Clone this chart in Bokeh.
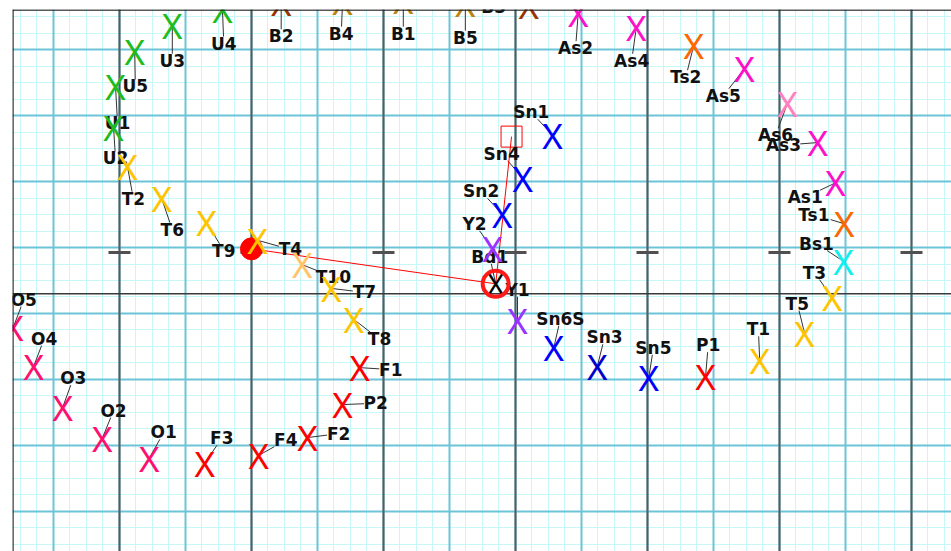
import numpy as np
from bokeh.plotting import figure
from bokeh.models import Range1d, Grid, FixedTicker, Span, ColumnDataSource
from bokeh.core.properties import value
from bokeh.embed import file_html
from bokeh.resources import INLINE

# ---------------- data (chart units) ----------------
names = ["U4", "U3", "U5", "U1", "U2", "T2", "T6", "T9", "T4", "T10", "T7", "T8",
         "F1", "P2", "F2", "F4", "F3", "O1", "O2", "O3", "O4", "O5",
         "Sn1", "Sn4", "Sn2", "Y2", "Y1", "Sn6S", "Sn3", "Sn5", "P1", "T1", "T5", "T3",
         "Bs1", "Ts1", "As1", "As3", "As6", "As5", "Ts2", "As4", "As2",
         "B3", "B5", "B1", "B4", "B2"]
point_x = [-4.44, -5.20, -5.77, -6.06, -6.09, -5.88, -5.36, -4.68, -3.91, -3.23, -2.79, -2.45,
           -2.36, -2.62, -3.15, -3.89, -4.71, -5.55, -6.26, -6.86, -7.30, -7.61,
           0.56, 0.11, -0.20, -0.35, 0.03, 0.58, 1.24, 2.02, 2.88, 3.70, 4.38, 4.80,
           4.97, 4.98, 4.85, 4.58, 4.12, 3.47, 2.70, 1.83, 0.95,
           0.20, -0.76, -1.70, -2.62, -3.55]
point_y = [3.60, 3.36, 2.97, 2.44, 1.82, 1.23, 0.74, 0.38, 0.11, -0.26, -0.62, -1.09,
           -1.82, -2.38, -2.88, -3.15, -3.27, -3.20, -2.89, -2.42, -1.80, -1.21,
           1.70, 1.05, 0.50, -0.02, -1.11, -1.52, -1.80, -1.97, -1.95, -1.71, -1.30, -0.76,
           -0.21, 0.36, 0.98, 1.59, 2.18, 2.71, 3.06, 3.33, 3.55,
           3.66, 3.70, 3.74, 3.73, 3.71]
label_x = [-4.42, -5.20, -5.76, -6.03, -6.06, -5.79, -5.20, -4.42, -3.41, -2.76, -2.29, -2.06,
           -1.89, -2.12, -2.68, -3.48, -4.45, -5.33, -6.09, -6.70, -7.14, -7.45,
           0.24, -0.21, -0.52, -0.62, 0.03, 0.68, 1.35, 2.09, 2.92, 3.68, 4.27, 4.53,
           4.56, 4.52, 4.39, 4.06, 3.94, 3.15, 2.58, 1.76, 0.91,
           -0.33, -0.76, -1.70, -2.64, -3.55]
label_y = [3.09, 2.83, 2.44, 1.89, 1.35, 0.74, 0.27, -0.05, -0.03, -0.45, -0.68, -1.39,
           -1.85, -2.36, -2.82, -2.92, -2.89, -2.80, -2.47, -1.98, -1.38, -0.79,
           2.05, 1.42, 0.85, 0.36, -0.64, -1.08, -1.36, -1.52, -1.48, -1.24, -0.85, -0.38,
           0.06, 0.50, 0.76, 1.55, 1.70, 2.30, 2.58, 2.83, 3.02,
           3.65, 3.18, 3.24, 3.24, 3.20]
point_colors = ["#1fbb1f"] * 5 + ["#ffc400"] * 4 + ["#ffc46a"] + ["#ffc400"] * 2 + \
               ["#ff0000"] * 5 + ["#ff1070"] * 5 + \
               ["#0000ff"] * 3 + ["#9933ff"] * 2 + ["#0000ff", "#0000cc", "#0000ff", "#ff0000"] + \
               ["#ffc400"] * 3 + ["#11eeee", "#ff6600", "#ff10c8", "#ff10c8", "#ff80c0", "#ff10c8",
                                  "#ff6600", "#ff10c8", "#ff10c8"] + \
               ["#993300", "#b8860b", "#b8860b", "#b8860b", "#993300"]

# reference point (black X in red ring)
ref_name = "Bd1"
ref_x, ref_y = -0.30, -0.55
ref_label_x, ref_label_y = -0.39, -0.14
# red dot and red square
dot_x, dot_y = -4.00, -0.02
square_x, square_y = -0.06, 1.68
# short dark ticks
dash_x = [-6, -4, -2, 0, 2, 4, 6]
dash_y = [-0.076] * 7
axis_y = -0.70

# ---------------- figure ----------------
p = figure(width=951, height=551,
           x_range=Range1d(-7.6212, 6.6061), y_range=Range1d(-4.6061, 3.6061),
           output_backend="svg", toolbar_location=None,
           x_axis_location=None, y_axis_location=None,
           min_border_left=12, min_border_top=9, min_border_right=0, min_border_bottom=0)
p.outline_line_color = None
p.center = [r for r in p.center if not isinstance(r, Grid)]

xs_minor = [v for v in np.arange(-7.5, 6.51, 0.25) if abs(v - round(v)) > 1e-6]
ys_minor = [v for v in np.arange(-4.5, 3.51, 0.25) if abs(v - round(v)) > 1e-6]
p.add_layout(Grid(dimension=0, ticker=FixedTicker(ticks=xs_minor), grid_line_color="#c8f7f8", grid_line_width=1))
p.add_layout(Grid(dimension=1, ticker=FixedTicker(ticks=ys_minor), grid_line_color="#c8f7f8", grid_line_width=1))
p.add_layout(Grid(dimension=0, ticker=FixedTicker(ticks=list(range(-7, 7))), grid_line_color="#6cc4d8", grid_line_width=2))
p.add_layout(Grid(dimension=1, ticker=FixedTicker(ticks=list(range(-4, 4))), grid_line_color="#6cc4d8", grid_line_width=2))
p.add_layout(Grid(dimension=0, ticker=FixedTicker(ticks=list(range(-6, 7, 2))), grid_line_color="#5a5a5a", grid_line_width=2))
p.add_layout(Span(location=axis_y, dimension="width", line_color="#3a3a3a", line_width=1.5, level="underlay"))
p.add_layout(Span(location=-7.615, dimension="height", line_color="#222222", line_width=1.5))
p.add_layout(Span(location=3.600, dimension="width", line_color="#222222", line_width=1.5))

# leader lines: from point to edge of label box
px_per_unit = 66.0
all_x = point_x + [ref_x]
all_y = point_y + [ref_y]
all_lx = label_x + [ref_label_x]
all_ly = label_y + [ref_label_y]
all_names = names + [ref_name]
x0s, y0s, x1s, y1s = [], [], [], []
for mx, my, lx, ly, nm in zip(all_x, all_y, all_lx, all_ly, all_names):
    hw = (len(nm) * 10.5 / 2 + 1) / px_per_unit
    hh = 7.0 / px_per_unit
    dx, dy = lx - mx, ly - my
    ts = []
    if abs(dx) > 1e-9:
        ts.append(hw / abs(dx))
    if abs(dy) > 1e-9:
        ts.append(hh / abs(dy))
    t = min(ts) if ts else 1
    if t >= 1:
        continue
    x0s.append(mx); y0s.append(my)
    x1s.append(lx - dx * t); y1s.append(ly - dy * t)
p.segment(x0=x0s, y0=y0s, x1=x1s, y1=y1s, line_color="#333333", line_width=1)

# red path
p.line(x=[dot_x, ref_x, square_x], y=[dot_y, ref_y, square_y], line_color="#ff0000", line_width=1)
p.scatter(x=dash_x, y=dash_y, marker="dash", size=22, line_width=3, line_color="#505050")
p.scatter(x=[dot_x], y=[dot_y], size=22, fill_color="#ff0000", line_color="#ff0000")
p.scatter(x=[square_x], y=[square_y], marker="square", size=21, fill_color=None, line_color="#ff0000", line_width=1)

src = ColumnDataSource(dict(x=point_x, y=point_y, c=point_colors, lx=label_x, ly=label_y, name=names))

# labels first, markers drawn over them
p.text(x="lx", y="ly", text="name", source=src, text_color="#111111",
       text_font=value("DejaVu Sans"), text_font_style="bold", text_font_size="17px",
       text_align="center", text_baseline="middle")
p.text(x=[ref_label_x], y=[ref_label_y], text=[ref_name], text_color="#111111",
       text_font=value("DejaVu Sans"), text_font_style="bold", text_font_size="17px",
       text_align="center", text_baseline="middle")

p.text(x="x", y="y", text=value("X"), text_color="c", source=src,
       text_font=value("Noto Sans"), text_font_size="35px", text_align="center", text_baseline="middle")
p.text(x=[ref_x], y=[ref_y], text=value("X"), text_color="#000000",
       text_font=value("Noto Sans"), text_font_size="29px", text_align="center", text_baseline="middle")
p.scatter(x=[ref_x], y=[ref_y], marker="circle", size=26, fill_color=None, line_color="#ff1a1a", line_width=4)

open("out.html", "w").write(file_html(p, INLINE))
